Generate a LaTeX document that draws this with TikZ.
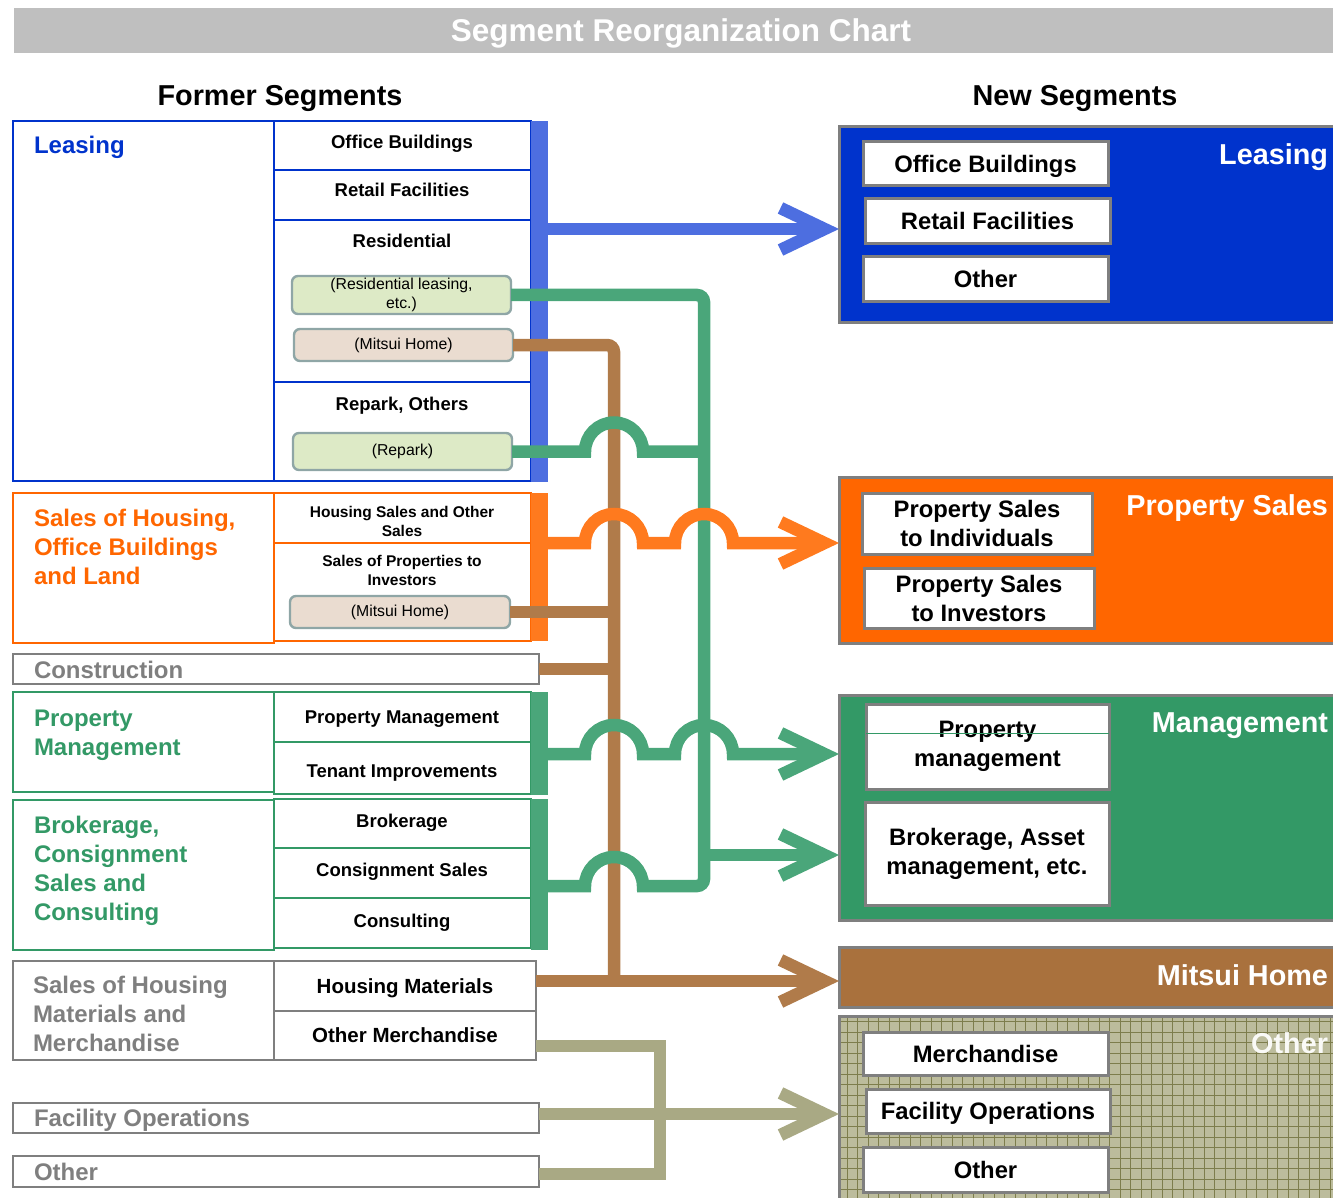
\documentclass[tikz,border=0pt]{standalone}
\usepackage{fontspec}
\setmainfont{Liberation Sans}
\usetikzlibrary{arrows.meta}
\definecolor{leaseblue}{HTML}{0033CC}
\definecolor{salesorange}{HTML}{FF6600}
\definecolor{mgmtgreen}{HTML}{339966}
\definecolor{framegrey}{HTML}{7F7F7F}
\definecolor{titlegrey}{HTML}{BFBFBF}
\definecolor{blueband}{HTML}{4D6EE0}
\definecolor{orangeband}{HTML}{FF7A1E}
\definecolor{greenband}{HTML}{4AA67A}
\definecolor{brownband}{HTML}{B07B4A}
\definecolor{oliveband}{HTML}{A9A984}
\definecolor{homebrown}{HTML}{A9713D}
\definecolor{otherfill}{HTML}{BCBC9C}
\definecolor{othergrid}{HTML}{7D7D4C}
\definecolor{tagedge}{HTML}{8FA6A6}
\definecolor{taggreen}{HTML}{DDEAC6}
\definecolor{tagbrown}{HTML}{EADCD0}

\begin{document}
\begin{tikzpicture}[x=1pt, y=-1pt,
    every node/.style={inner sep=0pt, outer sep=0pt},
    segcell/.style={draw=#1, line width=2.6pt, anchor=north west},
    sidebar/.style={fill=#1, anchor=north west, minimum width=17pt},
    tagbox/.style={draw=tagedge, fill=#1, line width=2.4pt, rounded corners=6pt,
      anchor=north west, minimum width=219pt, align=center,
      font=\fontsize{15.8}{19}\selectfont},
    seglab/.style={anchor=north west, align=left, text=#1,
      font=\fontsize{24}{29}\selectfont\bfseries},
    sublab/.style={anchor=base, font=\fontsize{18.5}{22}\selectfont\bfseries},
    smalllab/.style={anchor=north, align=center,
      font=\fontsize{15.5}{19.5}\selectfont\bfseries},
    hdr/.style={anchor=base, font=\fontsize{28.8}{32}\selectfont\bfseries},
    newseg/.style={fill=#1, draw=framegrey, line width=3pt, anchor=north west,
      minimum width=520pt},
    newtitle/.style={anchor=base east, text=white,
      font=\fontsize{28.8}{34}\selectfont\bfseries},
    newcell/.style={fill=white, draw=framegrey, line width=3pt, anchor=north west,
      align=center, font=\fontsize{23.8}{29}\selectfont\bfseries},
    oneline/.style={text height=17pt, text depth=0pt},
    band/.style={draw=#1, line width=12.5pt},
    flow/.style={-{Straight Barb[length=44pt, width=42pt]}}]
  \useasboundingbox (0,0) rectangle (1333,1198);
  % title and headings
  \node[fill=titlegrey, anchor=north west, minimum width=1334pt,
    minimum height=45pt] (titleBar) at (14,8) {};
  \node[anchor=base, text=white, font=\fontsize{31.5}{36}\selectfont\bfseries]
    (titleT) at (681,42) {Segment Reorganization Chart};
  \node[hdr] (formerT) at (280,106) {Former Segments};
  \node[hdr] (newT) at (1075,106) {New Segments};

  % former segments: leasing
  \node[segcell=leaseblue, minimum width=261pt, minimum height=360pt] (leaseL) at (13,121) {};
  \node[segcell=leaseblue, minimum width=257pt, minimum height=49pt] (officeR) at (274,121) {};
  \node[segcell=leaseblue, minimum width=257pt, minimum height=50pt] (retailR) at (274,170) {};
  \node[segcell=leaseblue, minimum width=257pt, minimum height=162pt] (residR) at (274,220) {};
  \node[segcell=leaseblue, minimum width=257pt, minimum height=99pt] (reparkR) at (274,382) {};
  \node[sidebar=blueband, minimum height=361pt] (leaseBar) at (531,121) {};
  \node[seglab=leaseblue, anchor=base west] (leaseT) at (34,154) {Leasing};
  \node[sublab] (officeT) at (402,149) {Office Buildings};
  \node[sublab] (retailT) at (402,197) {Retail Facilities};
  \node[sublab] (residT) at (402,248) {Residential};
  \node[sublab] (reparkT) at (402,410) {Repark, Others};
  \node[tagbox=taggreen, minimum height=38pt] (resLease) at (292,276) {(Residential leasing,\\etc.)};
  \node[tagbox=tagbrown, minimum height=32pt] (homeA) at (294,329) {(Mitsui Home)};
  \node[tagbox=taggreen, minimum height=37pt] (reparkTag) at (293,433) {(Repark)};

  % former segments: sales
  \node[segcell=salesorange, minimum width=261pt, minimum height=150pt] (salesL) at (13,493) {};
  \node[segcell=salesorange, minimum width=257pt, minimum height=50pt] (hsaleR) at (274,493) {};
  \node[segcell=salesorange, minimum width=257pt, minimum height=98pt] (invR) at (274,543) {};
  \node[sidebar=orangeband, minimum height=148pt] (salesBar) at (531,493) {};
  \node[seglab=salesorange] (salesT) at (34,509) {Sales of Housing,\\Office Buildings\\and Land};
  \node[smalllab] (hsaleT) at (402,506) {Housing Sales and Other\\Sales};
  \node[smalllab] (invT) at (402,555) {Sales of Properties to\\Investors};
  \node[tagbox=tagbrown, minimum width=220pt, minimum height=32pt] (homeB) at (290,596) {(Mitsui Home)};

  % former segments: construction
  \node[segcell=framegrey, minimum width=526pt, minimum height=30pt] (constr) at (13,654) {};
  \node[seglab=framegrey, anchor=base west] (constrT) at (34,678) {Construction};

  % former segments: management
  \node[segcell=mgmtgreen, line width=2pt, minimum width=261pt, minimum height=100pt] (pmL) at (13,692) {};
  \node[segcell=mgmtgreen, line width=2pt, minimum width=257pt, minimum height=50pt] (pmR) at (274,692) {};
  \node[segcell=mgmtgreen, line width=2pt, minimum width=257pt, minimum height=52pt] (tenantR) at (274,742) {};
  \node[sidebar=greenband, minimum height=103pt] (pmBar) at (531,692) {};
  \node[seglab=mgmtgreen] (pmT) at (34,710) {Property\\Management};
  \node[sublab] (pmRT) at (402,723) {Property Management};
  \node[sublab] (tenantT) at (402,777) {Tenant Improvements};

  \node[segcell=mgmtgreen, line width=2pt, minimum width=261pt, minimum height=150pt] (brkL) at (13,800) {};
  \node[segcell=mgmtgreen, line width=2pt, minimum width=257pt, minimum height=49pt] (brkR) at (274,799) {};
  \node[segcell=mgmtgreen, line width=2.6pt, minimum width=257pt, minimum height=50pt] (consR) at (274,848) {};
  \node[segcell=mgmtgreen, line width=2.6pt, minimum width=257pt, minimum height=50pt] (consultR) at (274,898) {};
  \node[sidebar=greenband, minimum height=151pt] (brkBar) at (531,799) {};
  \node[seglab=mgmtgreen] (brkT) at (34,816) {Brokerage,\\Consignment\\Sales and\\Consulting};
  \node[sublab] (brkRT) at (402,827) {Brokerage};
  \node[sublab] (consT) at (402,876) {Consignment Sales};
  \node[sublab] (consultT) at (402,927) {Consulting};

  % former segments: housing materials, facility, other
  \node[segcell=framegrey, minimum width=261pt, minimum height=99pt] (matL) at (13,961) {};
  \node[segcell=framegrey, minimum width=262pt, minimum height=50pt] (hmatR) at (274,961) {};
  \node[segcell=framegrey, minimum width=262pt, minimum height=49pt] (omerR) at (274,1011) {};
  \node[seglab=framegrey] (matT) at (33,976) {Sales of Housing\\Materials and\\Merchandise};
  \node[sublab, font=\fontsize{20.5}{24}\selectfont\bfseries] (hmatT) at (405,993) {Housing Materials};
  \node[sublab, font=\fontsize{20.5}{24}\selectfont\bfseries] (omerT) at (405,1042) {Other Merchandise};
  \node[segcell=framegrey, minimum width=526pt, minimum height=30pt] (facL) at (13,1103) {};
  \node[seglab=framegrey, anchor=base west] (facT) at (34,1126) {Facility Operations};
  \node[segcell=framegrey, minimum width=526pt, minimum height=31pt] (othL) at (13,1156) {};
  \node[seglab=framegrey, anchor=base west] (othT) at (34,1180) {Other};

  % new segments
  \node[newseg=leaseblue, minimum height=195pt] (newLease) at (839,127) {};
  \node[newtitle] (newLeaseT) at (1328,165) {Leasing};
  \node[newcell, oneline, minimum width=245pt, minimum height=44pt] (nOffice) at (863,142) {Office Buildings};
  \node[newcell, oneline, minimum width=245pt, minimum height=45pt] (nRetail) at (865,199) {Retail Facilities};
  \node[newcell, oneline, minimum width=245pt, minimum height=45pt] (nOther) at (863,257) {Other};

  \node[newseg=salesorange, minimum height=166pt] (newSales) at (839,477) {};
  \node[newtitle] (newSalesT) at (1328,515) {Property Sales};
  \node[newcell, minimum width=230pt, minimum height=61pt] (nIndiv) at (862,493) {Property Sales\\to Individuals};
  \node[newcell, minimum width=230pt, minimum height=60pt] (nInvest) at (864,568) {Property Sales\\to Investors};

  \node[newseg=mgmtgreen, minimum height=225pt] (newMgmt) at (839,695) {};
  \node[newtitle] (newMgmtT) at (1328,732) {Management};
  \node[newcell, minimum width=243pt, minimum height=85pt] (nPM) at (866,704) {Property\\management};
  \draw[mgmtgreen, line width=0.8pt] ([yshift=-29pt]nPM.north west) -- ([yshift=-29pt]nPM.north east);
  \node[newcell, minimum width=244pt, minimum height=103pt] (nBroker) at (865,802) {Brokerage, Asset\\management, etc.};

  \node[newseg=homebrown, minimum height=60pt] (newHome) at (839,947) {};
  \node[newtitle] (newHomeT) at (1328,985) {Mitsui Home};

  \node[newseg=otherfill, minimum height=200pt,
    path picture={\draw[othergrid, line width=0.6pt, step=10.5pt]
      (path picture bounding box.north west) grid (path picture bounding box.south east);}]
    (newOther) at (839,1016) {};
  \node[newtitle, text=white!92!otherfill] (newOtherT) at (1328,1053) {Other};
  \node[newcell, oneline, minimum width=245pt, minimum height=43pt] (nMerch) at (863,1032) {Merchandise};
  \node[newcell, oneline, minimum width=244pt, minimum height=44pt] (nFac) at (866,1089) {Facility Operations};
  \node[newcell, oneline, minimum width=245pt, minimum height=45pt] (nOth) at (863,1147) {Other};

  % flow levels and trunks
  \coordinate (yLease) at (0,229);
  \coordinate (ySales) at (0,543);
  \coordinate (yPM) at (0,754);
  \coordinate (yBroker) at (0,855);
  \coordinate (yHome) at (0,981);
  \coordinate (yFac) at (0,1114);
  \coordinate (brownTop) at (614,345);
  \coordinate (brownFoot) at (614,981);
  \coordinate (greenTop) at (704,295);
  \coordinate (greenFoot) at (704,886);
  \coordinate (oliveTop) at (660,1046);
  \coordinate (oliveFoot) at (660,1174);

  % brown (Mitsui Home)
  \draw[band=brownband] (homeA.east) [rounded corners=7pt] -- (brownTop) -- (brownFoot);
  \draw[band=brownband] (homeB.east) -- (homeB.east -| brownTop);
  \draw[band=brownband] (constr.east) -- (constr.east -| brownTop);
  \draw[band=brownband, flow] (hmatR.east |- yHome) -- (newHome.west |- yHome);

  % green trunk
  \draw[band=greenband] (brkBar.east |- greenFoot) -- (585,886)
    arc[start angle=180, end angle=360, radius=29]
    [rounded corners=7pt] -- (greenFoot) -- (greenTop) -- (resLease.east);
  \draw[band=greenband] (reparkTag.east) -- (585,451.5)
    arc[start angle=180, end angle=360, radius=29] -- (reparkTag.east -| greenTop);
  \draw[band=greenband, flow] (greenTop |- yBroker) -- (newMgmt.west |- yBroker);

  % olive (other)
  \draw[band=oliveband] (omerR.east |- oliveTop) -- (oliveTop) -- (oliveFoot) -- (othL.east |- oliveFoot);
  \draw[band=oliveband, flow] (facL.east |- yFac) -- (newOther.west |- yFac);

  % hopping flows
  \draw[band=orangeband, flow] (salesBar.east |- ySales) -- (585,543)
    arc[start angle=180, end angle=360, radius=29] -- (675,543)
    arc[start angle=180, end angle=360, radius=29] -- (newSales.west |- ySales);
  \draw[band=greenband, flow] (pmBar.east |- yPM) -- (585,754)
    arc[start angle=180, end angle=360, radius=29] -- (675,754)
    arc[start angle=180, end angle=360, radius=29] -- (newMgmt.west |- yPM);
  \draw[band=blueband, flow] (leaseBar.east |- yLease) -- (newLease.west |- yLease);
\end{tikzpicture}
\end{document}
